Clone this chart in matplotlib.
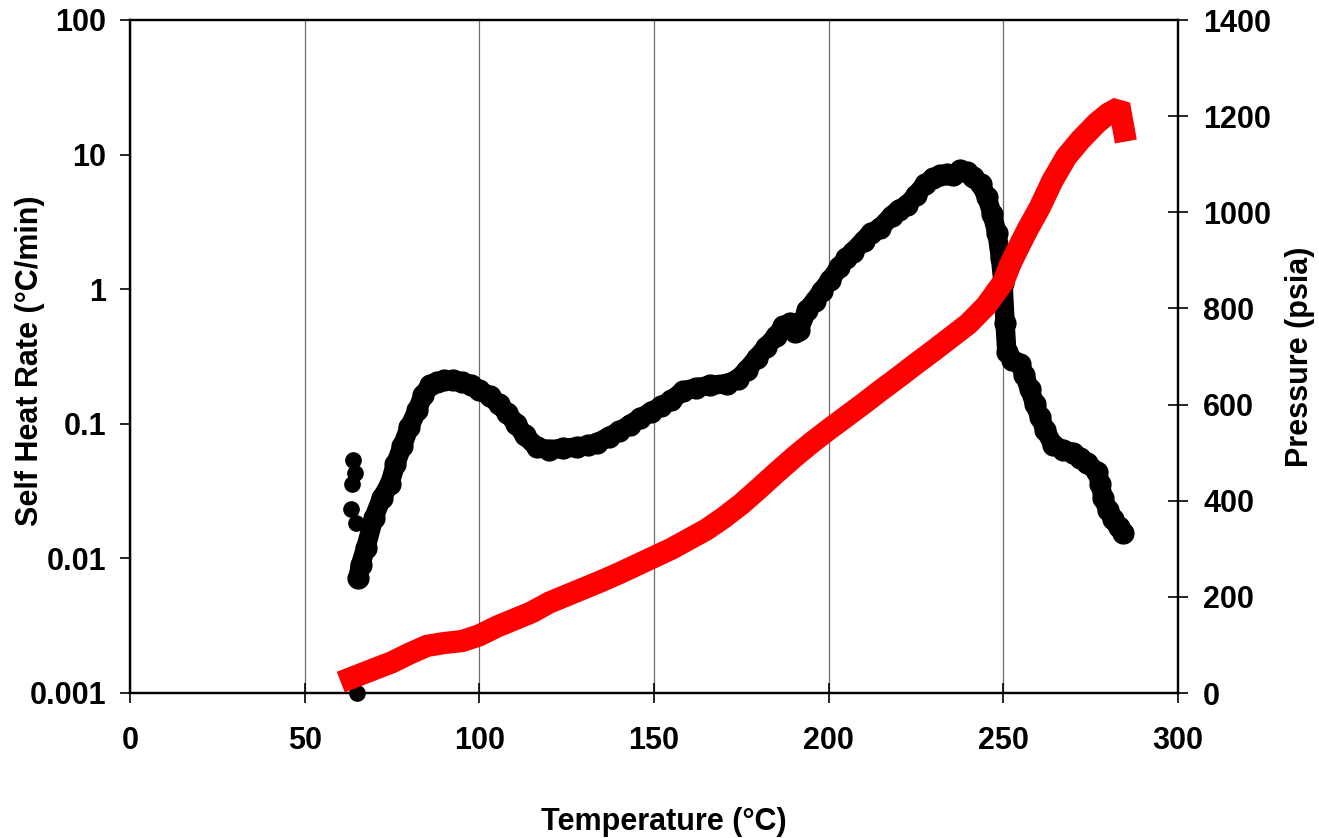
import matplotlib
matplotlib.use("Agg")
import matplotlib.pyplot as plt
from matplotlib.ticker import FixedLocator, FixedFormatter, NullLocator

plt.rcParams['font.family'] = ['Liberation Sans', 'DejaVu Sans']
plt.rcParams['font.weight'] = 'bold'

# Self heat rate (deg C/min) vs sample temperature (deg C)
rate_temp = [65.3, 66.0, 67.5, 69.8, 72.0, 74.4, 76.0, 77.9, 80.0, 82.2,
             84.0, 86.0, 88.0, 90.0, 92.5, 95.0, 97.5, 100.0, 103.0, 105.5,
             108.0, 110.5, 113.0, 116.5, 120.0, 124.0, 128.0, 131.0, 133.7, 137.0,
             140.0, 143.0, 146.0, 149.0, 152.0, 155.0, 158.3, 162.0, 166.0, 171.0,
             174.0, 176.5, 179.5, 182.0, 185.0, 187.0, 189.0, 190.5, 191.5, 193.8,
             196.0, 198.0, 200.4, 203.0, 205.0, 207.0, 210.0, 212.0, 214.7, 218.0,
             220.0, 222.4, 225.0, 227.5, 229.9, 232.0, 234.0, 235.6, 237.6, 239.5,
             241.3, 243.5, 245.3, 246.8, 248.2, 249.2, 249.9, 250.5, 251.0, 252.5,
             254.8, 256.0, 257.6, 259.0, 260.5, 262.0, 264.2, 267.0, 270.0, 272.0,
             274.0, 276.8, 277.8, 278.5, 280.0, 281.4, 283.0, 284.3]
rate = [0.0072, 0.009, 0.012, 0.02, 0.028, 0.036, 0.05, 0.068, 0.095, 0.126,
        0.165, 0.195, 0.205, 0.21, 0.211, 0.205, 0.195, 0.178, 0.16, 0.14,
        0.12, 0.1, 0.082, 0.067, 0.064, 0.066, 0.067, 0.069, 0.072, 0.08,
        0.088, 0.098, 0.11, 0.122, 0.135, 0.15, 0.175, 0.185, 0.193, 0.199,
        0.215, 0.25, 0.31, 0.37, 0.45, 0.53, 0.56, 0.48, 0.5, 0.7,
        0.82, 0.97, 1.17, 1.45, 1.7, 1.9, 2.3, 2.6, 2.85, 3.5,
        3.9, 4.2, 5.0, 6.0, 6.7, 7.0, 7.2, 7.0, 7.7, 7.4,
        6.8, 6.0, 4.84, 3.6, 2.6, 1.7, 1.12, 0.56, 0.34, 0.3,
        0.28, 0.23, 0.18, 0.14, 0.112, 0.09, 0.07, 0.064, 0.061, 0.056,
        0.051, 0.044, 0.036, 0.028, 0.023, 0.0195, 0.017, 0.0155]

# isolated readings at the start of the run
stray_temp = [63.75, 64.4, 63.5, 63.3, 64.7, 64.9]
stray_rate = [0.054, 0.043, 0.0355, 0.0233, 0.0184, 0.001]

# Vessel pressure (psia)
pres_temp = [63.3, 70, 75, 80, 85, 90, 95, 100, 105, 110,
             115, 120, 125, 130, 135, 140, 145, 150, 155, 160,
             165, 170, 175, 180, 185, 190, 195, 200, 205, 210,
             215, 220, 225, 230, 235, 240, 245, 248, 250, 252,
             254, 257, 260.5, 264, 268, 272, 276.8, 280, 282, 283.5, 284.5]
pressure = [31, 50, 64, 82, 98, 104, 108, 120, 138, 153,
            168, 188, 203, 218, 233, 249, 266, 283, 300, 320,
            340, 365, 393, 425, 458, 490, 520, 548, 575, 602,
            630, 657, 685, 712, 740, 768, 805, 835, 855, 892,
            922, 965, 1011, 1065, 1115, 1150, 1186, 1205, 1213, 1210, 1170]

x_ticks = [0, 50, 100, 150, 200, 250, 300]
rate_ticks = [0.001, 0.01, 0.1, 1, 10, 100]
rate_labels = ['0.001', '0.01', '0.1', '1', '10', '100']
pres_ticks = [0, 200, 400, 600, 800, 1000, 1200, 1400]

fs = 22

fig = plt.figure(figsize=(13.19, 8.38), dpi=100)
ax = fig.add_axes([130 / 1319, 1 - 693 / 838, 1048 / 1319, 673 / 838])
ax2 = ax.twinx()

ax.plot(rate_temp, rate, color='black', lw=14, marker='o', ms=15,
        solid_capstyle='round', solid_joinstyle='round', zorder=3)
ax.plot(stray_temp, stray_rate, linestyle='none', color='black', marker='o',
        ms=11, clip_on=False, zorder=3)
ax2.plot(pres_temp, pressure, color='red', lw=16,
         solid_capstyle='projecting', solid_joinstyle='miter', zorder=3)

ax.set_xlim(0, 300)
ax.set_yscale('log')
ax.set_ylim(0.001, 100)
ax2.set_ylim(0, 1400)

ax.xaxis.set_major_locator(FixedLocator(x_ticks))
ax.yaxis.set_major_locator(FixedLocator(rate_ticks))
ax.yaxis.set_major_formatter(FixedFormatter(rate_labels))
ax.yaxis.set_minor_locator(NullLocator())
ax2.yaxis.set_major_locator(FixedLocator(pres_ticks))

ax.grid(axis='x', color='#6e6e6e', lw=0.9)
ax.set_axisbelow(True)

for a in (ax, ax2):
    for s in a.spines.values():
        s.set_linewidth(1.6)
        s.set_color('black')

ax.tick_params(axis='x', direction='inout', length=14, width=1.2, pad=17,
               labelsize=fs, colors='black')
ax.tick_params(axis='y', direction='out', length=7, width=1.2, pad=10,
               labelsize=fs)
ax2.tick_params(axis='y', direction='inout', length=14, width=1.2, pad=11,
                labelsize=fs)
for lab in ax.get_xticklabels() + ax.get_yticklabels() + ax2.get_yticklabels():
    lab.set_fontweight('bold')

ax.set_xlabel('Temperature (°C)', fontsize=fs, fontweight='bold')
ax.set_ylabel('Self Heat Rate (°C/min)', fontsize=fs, fontweight='bold')
ax2.set_ylabel('Pressure (psia)', fontsize=fs, fontweight='bold')
ax.xaxis.set_label_coords((664 - 130) / 1048, (693 - 822) / 673)
ax.xaxis.label.set_va('center')
ax.yaxis.set_label_coords((30 - 130) / 1048, (693 - 361) / 673)
ax.yaxis.label.set_va('center')
ax2.yaxis.set_label_coords((1300 - 130) / 1048, 0.5)
ax2.yaxis.label.set_va('center')

fig.savefig('out.png', dpi=100)
